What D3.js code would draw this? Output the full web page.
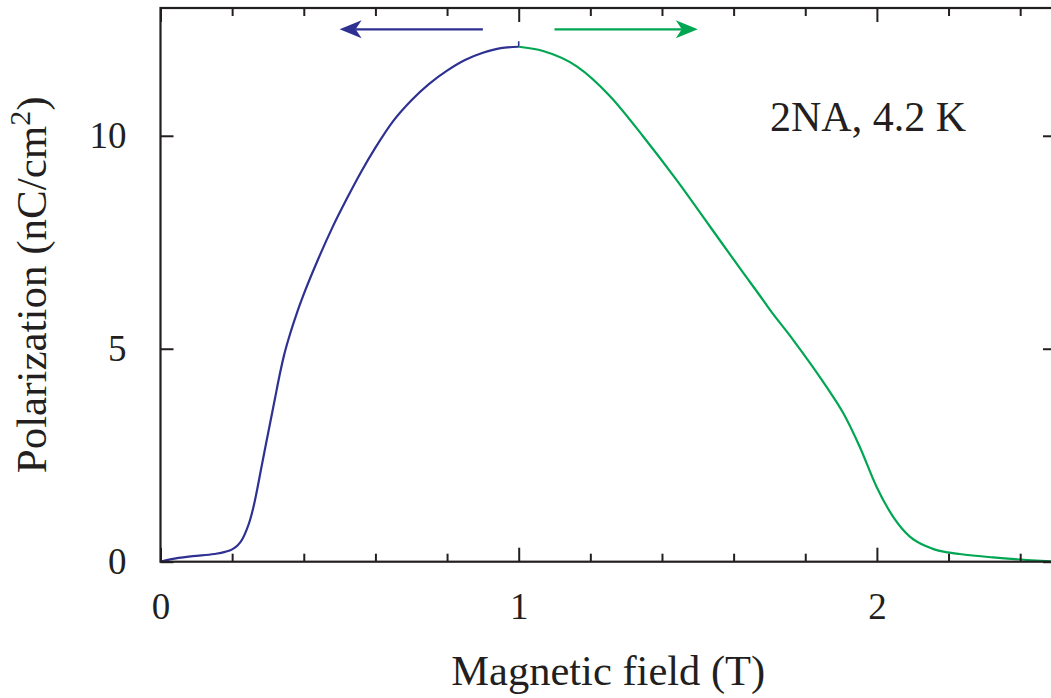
<!DOCTYPE html>
<html>
<head>
<meta charset="utf-8">
<script src="https://cdn.jsdelivr.net/npm/d3@7"></script>
<style>
  html, body { margin: 0; padding: 0; background: #fff; }
  svg { display: block; }
  text { font-family: "Liberation Serif", "DejaVu Serif", serif; fill: #231f20; }
</style>
</head>
<body>
<svg id="chart" width="1051" height="698"></svg>
<script>
// ---- data ----
const xMajorTicks = [0, 1, 2];
const xMinorTicks = [0.2, 0.4, 0.6, 0.8, 1.2, 1.4, 1.6, 1.8, 2.2, 2.4];
const yMajorTicks = [0, 5, 10];

// decreasing-field sweep (blue), field T vs polarization nC/cm^2
const blueField = [0, 0.03, 0.09, 0.15, 0.18, 0.2, 0.215, 0.228, 0.24, 0.25, 0.26, 0.27, 0.28, 0.3, 0.32, 0.333, 0.345, 0.36, 0.38, 0.4, 0.44, 0.48, 0.52, 0.56, 0.6, 0.65, 0.7, 0.75, 0.8, 0.85, 0.9, 0.95, 1.0];
const bluePol   = [0, 0.06, 0.13, 0.18, 0.23, 0.29, 0.38, 0.52, 0.74, 0.98, 1.3, 1.7, 2.14, 3.0, 3.85, 4.4, 4.85, 5.3, 5.82, 6.28, 7.1, 7.85, 8.52, 9.15, 9.72, 10.35, 10.83, 11.22, 11.53, 11.78, 11.95, 12.06, 12.09];
const blueEndField = [1.0, 1.0];
const blueEndPol   = [12.09, 12.22];

// increasing-field sweep (green)
const greenField = [1.0, 1.068, 1.162, 1.255, 1.347, 1.44, 1.534, 1.627, 1.673, 1.7, 1.766, 1.859, 1.906, 1.952, 1.999, 2.045, 2.092, 2.138, 2.16, 2.19, 2.231, 2.324, 2.418, 2.5];
const greenPol   = [12.09, 11.99, 11.63, 10.93, 9.99, 8.97, 7.87, 6.78, 6.25, 5.93, 5.21, 4.11, 3.49, 2.70, 1.76, 1.06, 0.59, 0.36, 0.29, 0.23, 0.18, 0.10, 0.04, 0.0];

// sweep-direction arrows: [from, to] in field, at polarization level
const blueArrow  = [0.9, 0.5];
const greenArrow = [1.1, 1.5];
const arrowLevel = 12.5;

const annotation = "2NA, 4.2 K";
const xLabel = "Magnetic field (T)";

// ---- layout ----
const svg = d3.select("#chart");
const x = d3.scaleLinear().domain([0, 2.5]).range([160.5, 1056]);
const y = d3.scaleLinear().domain([0, 13]).range([561.7, 8]);
const frameColor = "#231f20";
const blue = "#2e3192";
const green = "#00a651";

const blueData = blueField.map((f, i) => [f, bluePol[i]]);
const blueEnd = blueEndField.map((f, i) => [f, blueEndPol[i]]);
const greenData = greenField.map((f, i) => [f, greenPol[i]]);

// clip to plot
svg.append("clipPath").attr("id", "clip").append("rect")
  .attr("x", x(0)).attr("y", y(13)).attr("width", x(2.5) - x(0)).attr("height", y(0) - y(13));

const line = d3.line().x(d => x(d[0])).y(d => y(d[1])).curve(d3.curveMonotoneX);
const lineStraight = d3.line().x(d => x(d[0])).y(d => y(d[1]));

const plot = svg.append("g").attr("clip-path", "url(#clip)");
plot.append("path").datum(blueData).attr("d", line)
  .attr("fill", "none").attr("stroke", blue).attr("stroke-width", 2.2);
plot.append("path").datum(blueEnd).attr("d", lineStraight)
  .attr("fill", "none").attr("stroke", blue).attr("stroke-width", 1.6);
plot.append("path").datum(greenData).attr("d", line)
  .attr("fill", "none").attr("stroke", green).attr("stroke-width", 2.2);

// arrows
function arrow(from, to, color) {
  const x0 = x(from), x1 = x(to), yy = y(arrowLevel);
  const dir = Math.sign(x0 - x1); // direction back from tip
  const len = 22, notch = 16, half = 9;
  svg.append("line")
    .attr("x1", x0).attr("y1", yy).attr("x2", x1 + dir * notch).attr("y2", yy)
    .attr("stroke", color).attr("stroke-width", 2.3);
  svg.append("path")
    .attr("d", `M${x1},${yy} L${x1 + dir * len},${yy - half} L${x1 + dir * notch},${yy} L${x1 + dir * len},${yy + half} Z`)
    .attr("fill", color);
}
arrow(blueArrow[0], blueArrow[1], blue);
arrow(greenArrow[0], greenArrow[1], green);

// axes
function styleAxis(g) {
  g.select(".domain").remove();
  g.selectAll(".tick line").attr("stroke", frameColor).attr("stroke-width", 2);
  g.selectAll(".tick text").style("font-family", '"Liberation Serif", serif')
    .style("font-size", "37px").attr("fill", frameColor);
}
svg.append("g").attr("transform", `translate(0,${y(0)})`)
  .call(d3.axisBottom(x).tickValues(xMajorTicks).tickSizeInner(-14).tickSizeOuter(0).tickPadding(31).tickFormat(d3.format("d")))
  .call(styleAxis);
svg.append("g").attr("transform", `translate(0,${y(0)})`)
  .call(d3.axisBottom(x).tickValues(xMinorTicks).tickSizeInner(-8).tickSizeOuter(0).tickFormat(""))
  .call(styleAxis);
svg.append("g").attr("transform", `translate(0,${y(13)})`)
  .call(d3.axisTop(x).tickValues(xMajorTicks).tickSizeInner(-14).tickSizeOuter(0).tickFormat(""))
  .call(styleAxis);
svg.append("g").attr("transform", `translate(0,${y(13)})`)
  .call(d3.axisTop(x).tickValues(xMinorTicks).tickSizeInner(-8).tickSizeOuter(0).tickFormat(""))
  .call(styleAxis);
svg.append("g").attr("transform", `translate(${x(0)},0)`)
  .call(d3.axisLeft(y).tickValues(yMajorTicks).tickSizeInner(-13).tickSizeOuter(0).tickPadding(34).tickFormat(d3.format("d")))
  .call(styleAxis);
svg.append("g").attr("transform", `translate(${x(2.5)},0)`)
  .call(d3.axisRight(y).tickValues(yMajorTicks).tickSizeInner(-13).tickSizeOuter(0).tickFormat(""))
  .call(styleAxis);

// frame
svg.append("rect")
  .attr("x", x(0)).attr("y", y(13)).attr("width", x(2.5) - x(0)).attr("height", y(0) - y(13))
  .attr("fill", "none").attr("stroke", frameColor).attr("stroke-width", 2.2);

// labels
svg.append("text")
  .attr("x", (x(0) + x(2.5)) / 2).attr("y", 685)
  .attr("text-anchor", "middle").style("font-size", "42.5px")
  .text(xLabel);

const yl = svg.append("text")
  .attr("transform", `translate(46,${(y(0) + y(13)) / 2}) rotate(-90)`)
  .attr("text-anchor", "middle").style("font-size", "43px");
yl.append("tspan").text("Polarization (nC/cm");
yl.append("tspan").attr("dy", -16).style("font-size", "30px").text("2");
yl.append("tspan").attr("dy", 16).text(")");

svg.append("text")
  .attr("x", 770).attr("y", 131)
  .style("font-size", "42px")
  .text(annotation);
</script>
</body>
</html>
